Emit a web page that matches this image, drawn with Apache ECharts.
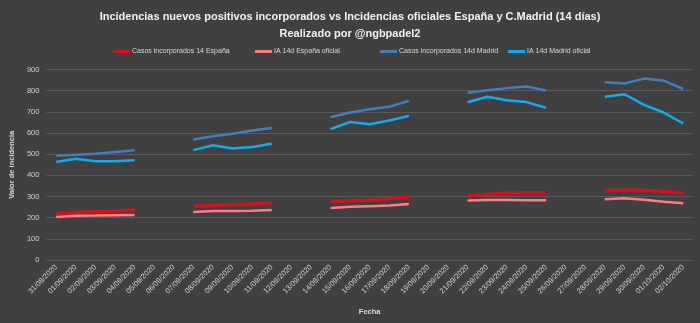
<!DOCTYPE html>
<html>
<head>
<meta charset="utf-8">
<script src="https://cdn.jsdelivr.net/npm/echarts@6/dist/echarts.min.js"></script>
<style>
html,body{margin:0;padding:0;background:#404040;}
#c{width:700px;height:323px;}
</style>
</head>
<body>
<div id="c"></div>
<script>
var dates = ["31/08/2020","01/09/2020","02/09/2020","03/09/2020","04/09/2020","05/09/2020","06/09/2020","07/09/2020","08/09/2020","09/09/2020","10/09/2020","11/09/2020","12/09/2020","13/09/2020","14/09/2020","15/09/2020","16/09/2020","17/09/2020","18/09/2020","19/09/2020","20/09/2020","21/09/2020","22/09/2020","23/09/2020","24/09/2020","25/09/2020","26/09/2020","27/09/2020","28/09/2020","29/09/2020","30/09/2020","01/10/2020","02/10/2020"];
var casosEspana = [218,224,228,232,237,null,null,254,258,262,265,270,null,null,276,280,284,290,298,null,null,305,310,316,318,318,null,null,328,329,328,325,317];
var iaEspana = [203,209,210,212,213,null,null,227,232,231,233,236,null,null,246,251,254,257,265,null,null,281,284,284,282,282,null,null,287,292,285,275,268];
var casosMadrid = [492,497,502,510,518,null,null,569,585,596,612,624,null,null,674,697,712,724,752,null,null,790,802,812,820,801,null,null,840,834,857,847,808];
var iaMadrid = [463,478,466,466,471,null,null,519,542,527,534,549,null,null,618,652,641,659,681,null,null,745,771,755,746,719,null,null,771,783,733,697,645];
var seriesNames = ["Casos incorporados 14 España","IA 14d España oficial","Casos incorporados 14d Madrid","IA 14d Madrid oficial"];

var FONT = "'Liberation Sans',sans-serif";
var chart = echarts.init(document.getElementById('c'));
function mk(name, data, color, width){
  return {name:name,type:'line',data:data,showSymbol:false,symbol:'none',connectNulls:false,
    lineStyle:{color:color,width:width},itemStyle:{color:color}};
}
var legendLefts = [108,250,375,503];
var legends = seriesNames.map(function(n,i){
  return {top:43,left:legendLefts[i],itemWidth:17,itemHeight:3,itemGap:10,icon:'rect',
    textStyle:{color:'#d9d9d9',fontSize:7,fontFamily:FONT,padding:[0,0,0,-3]},data:[n]};
});
chart.setOption({
  backgroundColor:'#404040',
  animation:false,
  title:{
    text:'Incidencias nuevos positivos incorporados vs Incidencias oficiales España y C.Madrid (14 días)\nRealizado por @ngbpadel2',
    left:'center',top:3,
    textStyle:{color:'#f2f2f2',fontSize:11,fontWeight:'bold',fontFamily:FONT,lineHeight:17}
  },
  legend:legends,
  grid:{left:43,right:7,top:69.5,bottom:63},
  xAxis:{
    type:'category',data:dates,boundaryGap:true,
    name:'Fecha',nameLocation:'middle',nameGap:48,
    nameTextStyle:{color:'#d9d9d9',fontSize:7.5,fontWeight:'bold',fontFamily:FONT},
    axisLine:{show:false},axisTick:{show:false},
    axisLabel:{rotate:45,interval:0,color:'#d0d0d0',fontSize:7.5,fontFamily:FONT,margin:6}
  },
  yAxis:{
    type:'value',min:0,max:900,interval:100,
    name:'Valor de incidencia',nameLocation:'middle',nameGap:25,
    nameTextStyle:{color:'#d9d9d9',fontSize:7.5,fontWeight:'bold',fontFamily:FONT},
    axisLine:{show:false},axisTick:{show:false},
    axisLabel:{color:'#d0d0d0',fontSize:7.5,fontFamily:FONT,margin:7},
    splitLine:{lineStyle:{color:'#5a5a5a',width:1}}
  },
  series:[
    mk(seriesNames[0],casosEspana,'#d0121b',3.5),
    mk(seriesNames[1],iaEspana,'#ff7c80',2.5),
    mk(seriesNames[2],casosMadrid,'#3f7fbf',2.5),
    mk(seriesNames[3],iaMadrid,'#12aaf0',2.5)
  ]
});
</script>
</body>
</html>
